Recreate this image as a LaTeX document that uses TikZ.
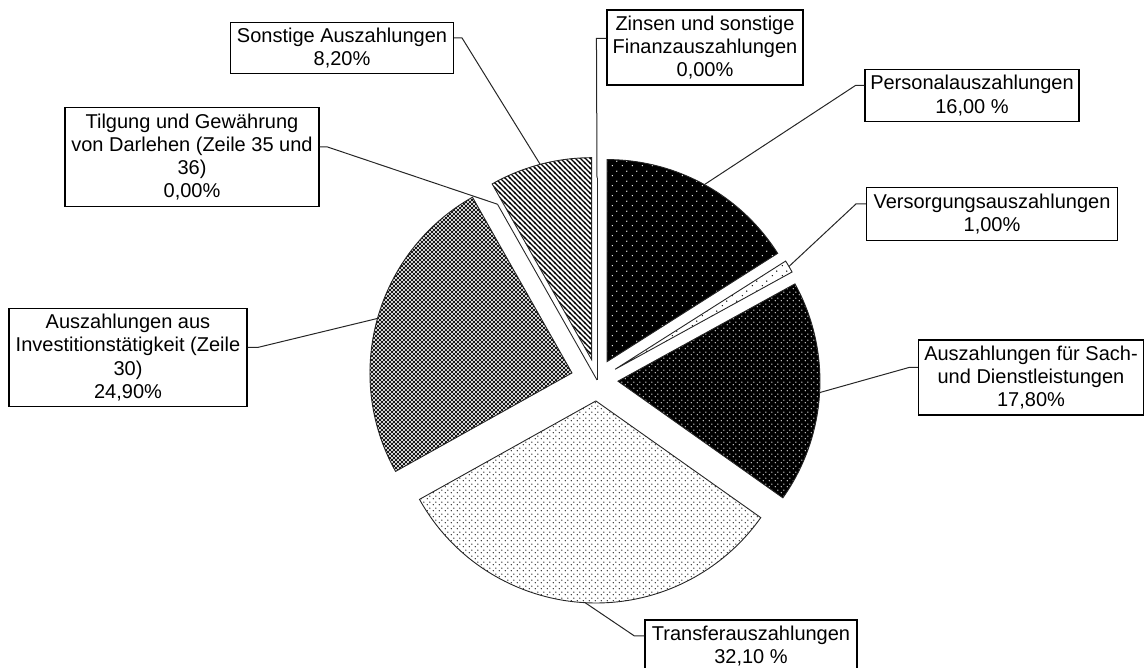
\documentclass[tikz,border=0pt]{standalone}
\usepackage{fontspec}
\setmainfont{Liberation Sans}
\usetikzlibrary{patterns}

\pgfdeclarepatternformonly{sparse dots}{\pgfqpoint{0pt}{0pt}}{\pgfqpoint{10pt}{10pt}}{\pgfqpoint{10pt}{10pt}}{%
  \pgfpathcircle{\pgfqpoint{2.5pt}{2.5pt}}{0.8pt}%
  \pgfpathcircle{\pgfqpoint{7.5pt}{7.5pt}}{0.8pt}%
  \pgfusepath{fill}}
\pgfdeclarepatternformonly{dense dots}{\pgfqpoint{0pt}{0pt}}{\pgfqpoint{6pt}{6pt}}{\pgfqpoint{6pt}{6pt}}{%
  \pgfpathcircle{\pgfqpoint{1.5pt}{1.5pt}}{0.75pt}%
  \pgfpathcircle{\pgfqpoint{4.5pt}{4.5pt}}{0.75pt}%
  \pgfusepath{fill}}
\pgfdeclarepatternformonly{grid dots}{\pgfqpoint{-2pt}{-2pt}}{\pgfqpoint{6pt}{6pt}}{\pgfqpoint{4pt}{4pt}}{%
  \pgfpathcircle{\pgfqpoint{0pt}{0pt}}{1.42pt}%
  \pgfpathcircle{\pgfqpoint{2pt}{2pt}}{1.42pt}%
  \pgfusepath{fill}}
\pgfdeclarepatternformonly{back hatch}{\pgfqpoint{-1pt}{-1pt}}{\pgfqpoint{6pt}{6pt}}{\pgfqpoint{5pt}{5pt}}{%
  \pgfsetlinewidth{1.1pt}%
  \pgfpathmoveto{\pgfqpoint{-1pt}{6pt}}\pgfpathlineto{\pgfqpoint{6pt}{-1pt}}%
  \pgfusepath{stroke}}

\begin{document}
\begin{tikzpicture}[x=1pt,y=1pt,
  label box/.style={draw=black,line width=1.1pt,fill=white,align=center,inner xsep=5pt,inner ysep=2pt,font=\fontsize{20}{23.3}\selectfont},
  slice/.style={draw=black!85,line width=0.9pt},
  leader/.style={draw=black!85,line width=1pt}]
\useasboundingbox (0,0) rectangle (1144,668);
\coordinate (c) at (597,288);

% slices, exploded along the bisector
\draw[slice,preaction={fill=black},pattern=sparse dots,pattern color=white] ([shift={(61.2:21)}]c) -- +(32.4:202) arc[start angle=32.4,end angle=90,radius=202pt] -- cycle;
\draw[slice,preaction={fill=white},pattern=sparse dots,pattern color=black] ([shift={(30.6:21)}]c) -- +(28.8:202) arc[start angle=28.8,end angle=32.4,radius=202pt] -- cycle;
\draw[slice,preaction={fill=black},pattern=dense dots,pattern color=white] ([shift={(-3.24:21)}]c) -- +(-35.28:202) arc[start angle=-35.28,end angle=28.8,radius=202pt] -- cycle;
\draw[slice,preaction={fill=white},pattern=dense dots,pattern color=black] ([shift={(-93.06:21)}]c) -- +(-150.84:202) arc[start angle=-150.84,end angle=-35.28,radius=202pt] -- cycle;
\draw[slice,preaction={fill=white},pattern=grid dots,pattern color=black] ([shift={(164.34:26)}]c) -- +(119.52:202) arc[start angle=119.52,end angle=209.16,radius=202pt] -- cycle;
\draw[slice,preaction={fill=white},pattern=back hatch,pattern color=black] ([shift={(104.76:21)}]c) -- +(90:202) arc[start angle=90,end angle=119.52,radius=202pt] -- cycle;
%\draw[slice] (c) circle (202pt);
\draw[slice] (c) -- ([shift={(119.52:202)}]c);
\draw[slice] (c) -- ([shift={(90:202)}]c);

\coordinate (pers-end) at ([shift={(61.2:223)}]c);
\coordinate (vers-end) at ([shift={(30.6:223)}]c);
\coordinate (sach-end) at ([shift={(-3.24:223)}]c);
\coordinate (trans-end) at ([shift={(-93.06:223)}]c);
\coordinate (inv-end) at ([shift={(164.34:228)}]c);
\coordinate (tilg-end) at ([shift={(119.52:202)}]c);
\coordinate (sonst-end) at ([shift={(104.76:223)}]c);
\coordinate (zins-end) at ([shift={(90:202)}]c);

\node[label box,minimum width=214,minimum height=52] (pers) at (972,572.5) {Personalauszahlungen\\16,00 \%};
\node[label box,minimum width=251,minimum height=53] (vers) at (992,454) {Versorgungsauszahlungen\\1,00\%};
\node[label box,minimum width=225,minimum height=75] (sach) at (1031,290.5) {Auszahlungen für Sach-\\und Dienstleistungen\\17,80\%};
\node[label box,minimum width=212,minimum height=52] (trans) at (751,22) {Transferauszahlungen\\32,10 \%};
\node[label box,minimum width=238,minimum height=98] (inv) at (128,310.5) {Auszahlungen aus\\Investitionstätigkeit (Zeile\\30)\\24,90\%};
\node[label box,minimum width=254,minimum height=99] (tilg) at (192,511) {Tilgung und Gewährung\\von Darlehen (Zeile 35 und\\36)\\0,00\%};
\node[label box,minimum width=223,minimum height=51] (sonst) at (342,620) {Sonstige Auszahlungen\\8,20\%};
\node[label box,minimum width=196,minimum height=75] (zins) at (705,620.5) {Zinsen und sonstige\\Finanzauszahlungen\\0,00\%};

\draw[leader] ([yshift=10]pers.west) -- +(-9,0) -- (pers-end);
\draw[leader] ([yshift=10]vers.west) -- +(-10,0) -- (vers-end);
\draw[leader] ([yshift=10]sach.west) -- +(-9,0) -- (sach-end);
\draw[leader] ([yshift=10]trans.west) -- +(-10,0) -- (trans-end);
\draw[leader] ([yshift=10]inv.east) -- +(10,0) -- (inv-end);
\draw[leader] ([yshift=10]tilg.east) -- +(8,0) -- (tilg-end);
\draw[leader] ([yshift=10]sonst.east) -- +(8,0) -- (sonst-end);
\draw[leader] ([yshift=9]zins.west) -- +(-10,0) -- (zins-end);
\end{tikzpicture}
\end{document}
